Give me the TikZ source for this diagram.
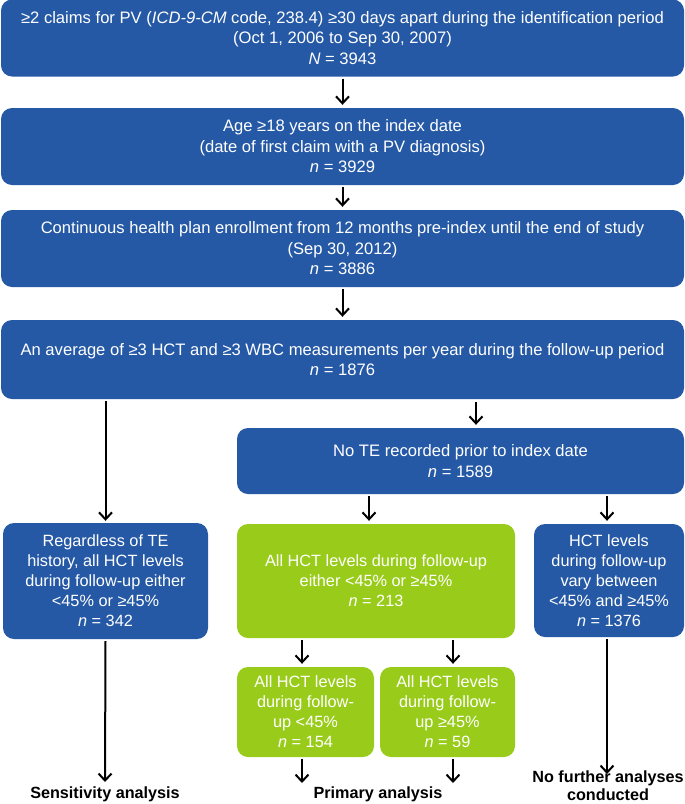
\documentclass[tikz,border=0pt]{standalone}
\usepackage{fontspec}
\setmainfont{Liberation Sans}
\usetikzlibrary{arrows.meta}
\definecolor{pvblue}{RGB}{37,89,165}
\definecolor{pvgreen}{RGB}{153,204,26}
\begin{document}
\begin{tikzpicture}[x=1pt,y=-1pt,
 box/.style={rectangle, rounded corners=11pt, fill=pvblue, text=white, align=center, inner sep=0pt, font=\fontsize{16.3}{20}\selectfont},
 topbox/.style={box, minimum width=683pt, minimum height=77pt, font=\fontsize{16.6}{20.5}\selectfont},
 gbox/.style={box, fill=pvgreen},
 arr/.style={-{Straight Barb[length=7pt,width=13pt]}, line width=2pt},
 lbl/.style={font=\bfseries\fontsize{16.2}{18}\selectfont, align=center, inner sep=0pt}]
\useasboundingbox (0,0) rectangle (685,804);
% top boxes
\node[topbox] (b1) at (342.5,38) {≥2 claims for PV (\textit{ICD-9-CM} code, 238.4) ≥30 days apart during the identification period\\(Oct 1, 2006 to Sep 30, 2007)\\\textit{N} = 3943};
\node[topbox] (b2) at (342.5,146.5) {Age ≥18 years on the index date\\(date of first claim with a PV diagnosis)\\\textit{n} = 3929};
\node[topbox] (b3) at (342.5,248.5) {Continuous health plan enrollment from 12 months pre-index until the end of study\\(Sep 30, 2012)\\\textit{n} = 3886};
\node[topbox, minimum height=79pt] (b4) at (342.5,359.5) {An average of ≥3 HCT and ≥3 WBC measurements per year during the follow-up period\\\textit{n} = 1876};
\node[topbox, minimum width=447pt, minimum height=66pt] (b5) at (460.5,461) {No TE recorded prior to index date\\\textit{n} = 1589};
% lower boxes
\node[box, minimum width=205pt, minimum height=116pt] (lt) at (105.5,581) {Regardless of TE\\history, all HCT levels\\during follow-up either\\<45\% or ≥45\%\\\textit{n} = 342};
\node[gbox, minimum width=278pt, minimum height=114pt] (g) at (376,581) {All HCT levels during follow-up\\either <45\% or ≥45\%\\\textit{n} = 213};
\node[box, minimum width=150pt, minimum height=113pt] (rt) at (609,580.5) {HCT levels\\during follow-up\\vary between\\<45\% and ≥45\%\\\textit{n} = 1376};
\node[gbox, minimum width=137pt, minimum height=90pt] (g1) at (305.5,712) {All HCT levels\\during follow-\\up <45\%\\\textit{n} = 154};
\node[gbox, minimum width=135pt, minimum height=90pt] (g2) at (447.5,712) {All HCT levels\\during follow-\\up ≥45\%\\\textit{n} = 59};
% labels
\node[lbl] (s) at (105,794) {Sensitivity analysis};
\node[lbl] (p) at (378,794) {Primary analysis};
\node[lbl] (nf) at (608,786) {No further analyses\\conducted};
% helper coordinates
\coordinate (x476) at (476,0);
\coordinate (x369) at (369,0);
\coordinate (x607) at (607,0);
\coordinate (x302) at (302,0);
\coordinate (x453) at (453,0);
\coordinate (endL) at (105,782);
\coordinate (endP1) at (302,783);
\coordinate (endP2) at (453,783);
\coordinate (endR) at (607,774);
% connectors
\draw[arr] ([yshift=-2pt]b1.south) -- ([yshift=3pt]b2.north);
\draw[arr] ([yshift=-2pt]b2.south) -- ([yshift=3pt]b3.north);
\draw[arr] ([yshift=-2pt]b3.south) -- ([yshift=3pt]b4.north);
\draw[arr] ([yshift=-2pt]b4.south -| lt.north) -- ([yshift=2pt]lt.north);
\draw[arr] ([yshift=-3pt]b4.south -| x476) -- ([yshift=3pt]b5.north -| x476);
\draw[arr] ([yshift=-2pt]b5.south -| x369) -- ([yshift=3pt]g.north -| x369);
\draw[arr] ([yshift=-2pt]b5.south -| x607) -- ([yshift=3pt]rt.north -| x607);
\draw[arr] ([yshift=-2pt]g.south -| x302) -- ([yshift=3pt]g1.north -| x302);
\draw[arr] ([yshift=-2pt]g.south -| x453) -- ([yshift=3pt]g2.north -| x453);
\draw[arr] ([yshift=-2pt]lt.south) -- (endL);
\draw[arr] ([yshift=-2pt]g1.south -| x302) -- (endP1);
\draw[arr] ([yshift=-2pt]g2.south -| x453) -- (endP2);
\draw[arr] ([yshift=-2pt]rt.south -| x607) -- (endR);
\end{tikzpicture}
\end{document}
